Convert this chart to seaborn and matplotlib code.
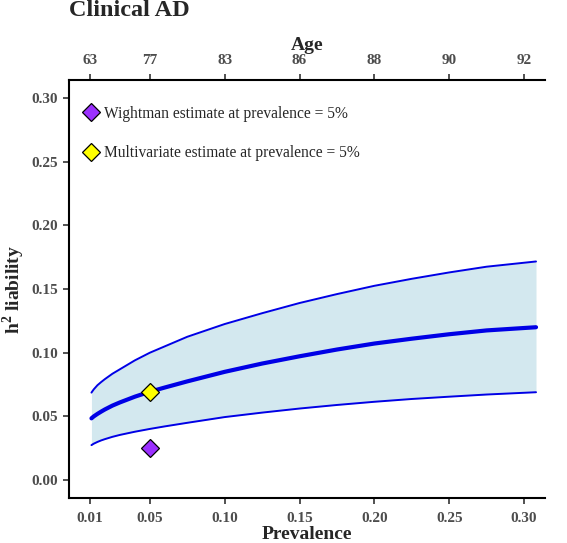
import numpy as np
import pandas as pd
import seaborn as sns
import matplotlib
matplotlib.use('Agg')
import matplotlib.pyplot as plt
from matplotlib.lines import Line2D

sns.set_theme(style='ticks')
plt.rcParams['font.family'] = ['Liberation Serif', 'DejaVu Serif']
plt.rcParams['mathtext.fontset'] = 'custom'
plt.rcParams['mathtext.rm'] = 'Liberation Serif'
plt.rcParams['mathtext.bf'] = 'Liberation Serif:bold'

# values
prevalence = [0.011, 0.0125, 0.015, 0.0175, 0.02, 0.025, 0.03, 0.04, 0.05, 0.06, 0.075,
              0.10, 0.125, 0.15, 0.175, 0.20, 0.225, 0.25, 0.275, 0.308]
h2_mid = [0.0485, 0.0500, 0.0520, 0.0538, 0.0555, 0.0585, 0.0610, 0.0655, 0.0694, 0.0727, 0.0775,
          0.0850, 0.0915, 0.0972, 0.1025, 0.1072, 0.1110, 0.1145, 0.1175, 0.1200]
h2_upper = [0.0687, 0.0712, 0.0745, 0.0770, 0.0793, 0.0835, 0.0870, 0.0940, 0.1000, 0.1050, 0.1125,
            0.1225, 0.1310, 0.1390, 0.1460, 0.1525, 0.1580, 0.1630, 0.1675, 0.1716]
h2_lower = [0.0275, 0.0286, 0.0300, 0.0312, 0.0322, 0.0340, 0.0355, 0.0380, 0.0402, 0.0422, 0.0450,
            0.0495, 0.0530, 0.0562, 0.0590, 0.0615, 0.0637, 0.0655, 0.0672, 0.0690]

x_ticks = [0.01, 0.05, 0.10, 0.15, 0.20, 0.25, 0.30]
x_labels = ['0.01', '0.05', '0.10', '0.15', '0.20', '0.25', '0.30']
age_labels = ['63', '77', '83', '86', '88', '90', '92']
y_ticks = [0.00, 0.05, 0.10, 0.15, 0.20, 0.25, 0.30]

est_prev = 0.05
wightman_h2 = 0.025
multivariate_h2 = 0.0694

df = pd.DataFrame({'prev': prevalence, 'mid': h2_mid, 'upper': h2_upper, 'lower': h2_lower})

fig = plt.figure(figsize=(5.67, 5.43), dpi=100)
ax = fig.add_axes([69 / 567, 1 - 498 / 543, 476 / 567, 418 / 543])

ax.fill_between(df['prev'], df['lower'], df['upper'], color='#d3e8ef', lw=0)
sns.lineplot(data=df, x='prev', y='upper', color='#0000e6', lw=1.4, ax=ax)
sns.lineplot(data=df, x='prev', y='lower', color='#0000e6', lw=1.4, ax=ax)
sns.lineplot(data=df, x='prev', y='mid', color='#0000e6', lw=3.0, ax=ax)

ax.plot([est_prev], [wightman_h2], marker='D', ms=9, color='#9b30ff', mec='black', mew=0.9, ls='none', zorder=5)
ax.plot([est_prev], [multivariate_h2], marker='D', ms=9, color='#ffff00', mec='black', mew=0.9, ls='none', zorder=5)

ax.set_xlim(-0.004, 0.314)
ax.set_ylim(-0.014, 0.314)

tick_font = dict(fontsize=11, fontweight='bold', color='#4d4d4d')
ax.set_xticks(x_ticks)
ax.set_xticklabels(x_labels, **tick_font)
ax.set_yticks(y_ticks)
ax.set_yticklabels(['%.2f' % v for v in y_ticks], **tick_font)
ax.tick_params(axis='x', length=4, width=1.2, color='#333333', pad=6)
ax.tick_params(axis='y', length=4, width=1.2, color='#333333', pad=4)

ax.set_xlabel('Prevalence', fontsize=14, fontweight='bold', labelpad=1)
ax.set_ylabel(r'h$^{\mathbf{2}}$ liability', fontsize=14, fontweight='bold', labelpad=3)

for s in ['top', 'right']:
    ax.spines[s].set_visible(False)
for s in ['left', 'bottom']:
    ax.spines[s].set_linewidth(1.5)
    ax.spines[s].set_color('black')

sec = ax.secondary_xaxis('top')
sec.set_xticks(x_ticks)
sec.set_xticklabels(age_labels, **tick_font)
sec.tick_params(length=4, width=1.2, color='#333333', pad=5)
sec.spines['top'].set_linewidth(1.5)
sec.spines['top'].set_color('black')
sec.set_xlabel('Age', fontsize=14, fontweight='bold', labelpad=3)

handles = [
    Line2D([], [], marker='D', ms=9, color='#9b30ff', mec='black', mew=0.9, ls='none'),
    Line2D([], [], marker='D', ms=9, color='#ffff00', mec='black', mew=0.9, ls='none'),
]
ax.legend(handles, ['Wightman estimate at prevalence = 5%', 'Multivariate estimate at prevalence = 5%'],
          loc='upper left', bbox_to_anchor=(0.027, 0.938), frameon=False, fontsize=11.2,
          handlelength=1.2, handletextpad=0.2, labelspacing=1.5, borderpad=0, borderaxespad=0)

fig.text(69 / 567, 1 - 16 / 543, 'Clinical AD', fontsize=17.5, fontweight='bold', va='baseline', ha='left')

fig.savefig('out.png', dpi=100)
